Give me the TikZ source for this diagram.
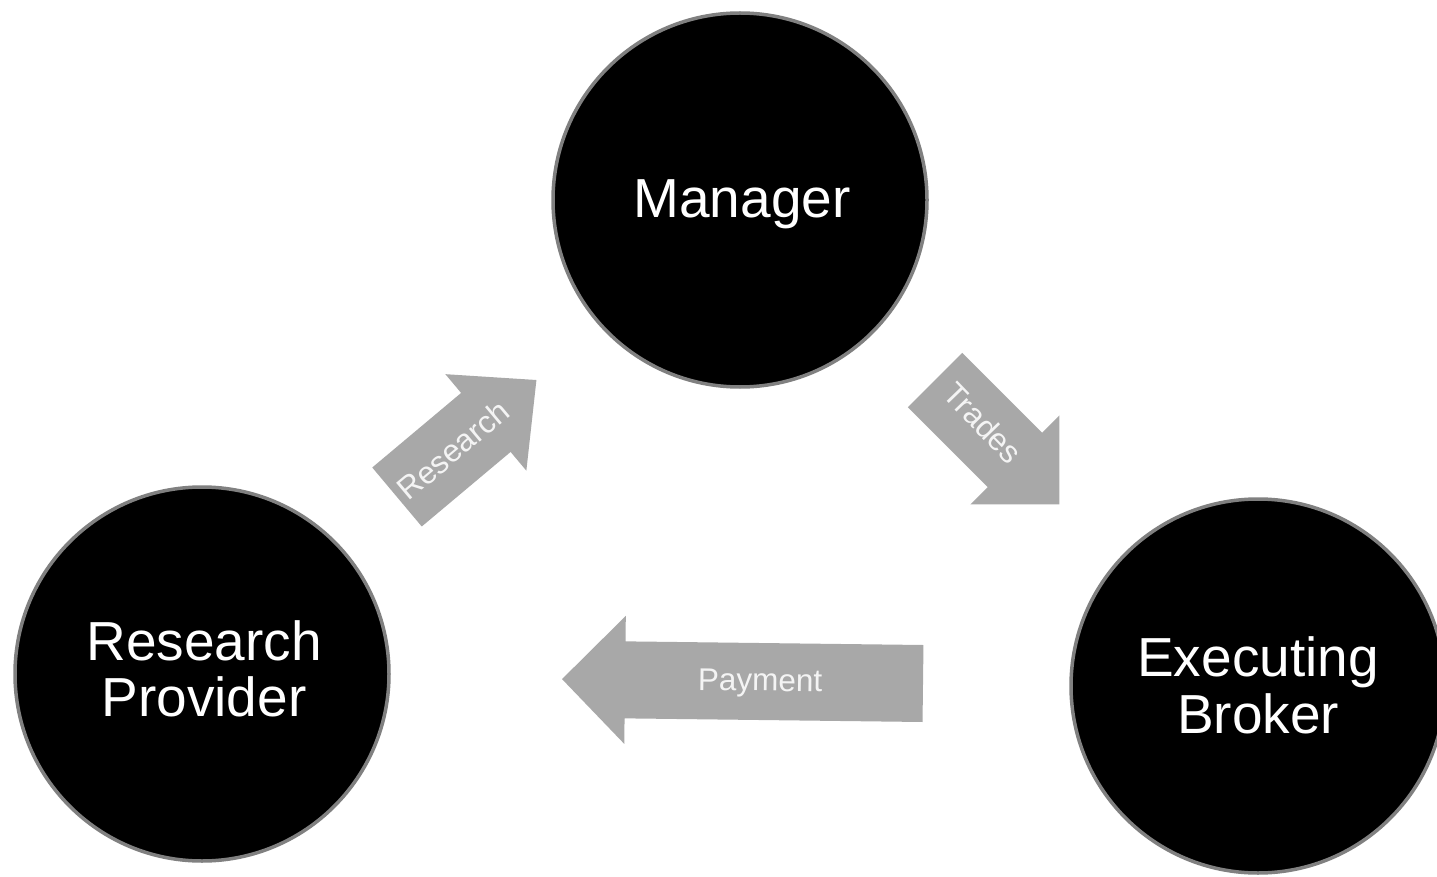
\documentclass[tikz,border=0pt]{standalone}
\usepackage{fontspec}
\setmainfont{Liberation Sans}
\definecolor{circgray}{HTML}{808080}
\definecolor{arrowgray}{HTML}{A8A8A8}
\definecolor{labelwhite}{HTML}{F4F4F4}
\begin{document}
\begin{tikzpicture}[x=1pt,y=-1pt,
  circ/.style={circle,fill=black,draw=circgray,line width=3.5pt,minimum size=374pt,inner sep=0pt},
  bigtext/.style={text=white,inner sep=0pt,anchor=base,font=\fontsize{55}{57}\selectfont},
  blockarrow/.style={fill=arrowgray},
  arrowlabel/.style={text=labelwhite,inner sep=0pt,font=\fontsize{31.5}{33}\selectfont}]
\useasboundingbox (0,0) rectangle (1437,877);
\fill[white] (0,0) rectangle (1437,877);

% circles
\node[circ] (mgr) at (740,200) {};
\node[circ] (rp) at (202,674) {};
\node[circ] (eb) at (1258,686) {};

\node[bigtext] (mgrlabel) at (742,218) {Manager};
\node[bigtext] (rplabelA) at (204,660) {Research};
\node[bigtext] (rplabelB) at (204,716) {Provider};
\node[bigtext] (eblabelA) at (1258,676) {Executing};
\node[bigtext] (eblabelB) at (1258,733) {Broker};

% Research arrow
\begin{scope}[shift={(397,497)},rotate=40]
  \fill[blockarrow] (0,-38.5) -- (116,-38.5) -- (116,-63) -- (182,0) -- (116,63) -- (116,38.5) -- (0,38.5) -- cycle;
\end{scope}
\node[arrowlabel,rotate=40] (reslabel) at (453,450) {Research};

% Trades arrow
\begin{scope}[shift={(935,380)},rotate=-45]
  \fill[blockarrow] (0,-38.5) -- (113,-38.5) -- (113,-63) -- (176,0) -- (113,63) -- (113,38.5) -- (0,38.5) -- cycle;
\end{scope}
\node[arrowlabel,rotate=-46] (trdlabel) at (983,423) {Trades};

% Payment arrow
\begin{scope}[shift={(923,683.5)},rotate=179.3]
  \fill[blockarrow] (0,-38.5) -- (298,-38.5) -- (298,-64) -- (361,0) -- (298,64) -- (298,38.5) -- (0,38.5) -- cycle;
\end{scope}
\node[arrowlabel,anchor=base,rotate=-0.7] (paylabel) at (760,691) {Payment};
\end{tikzpicture}
\end{document}
